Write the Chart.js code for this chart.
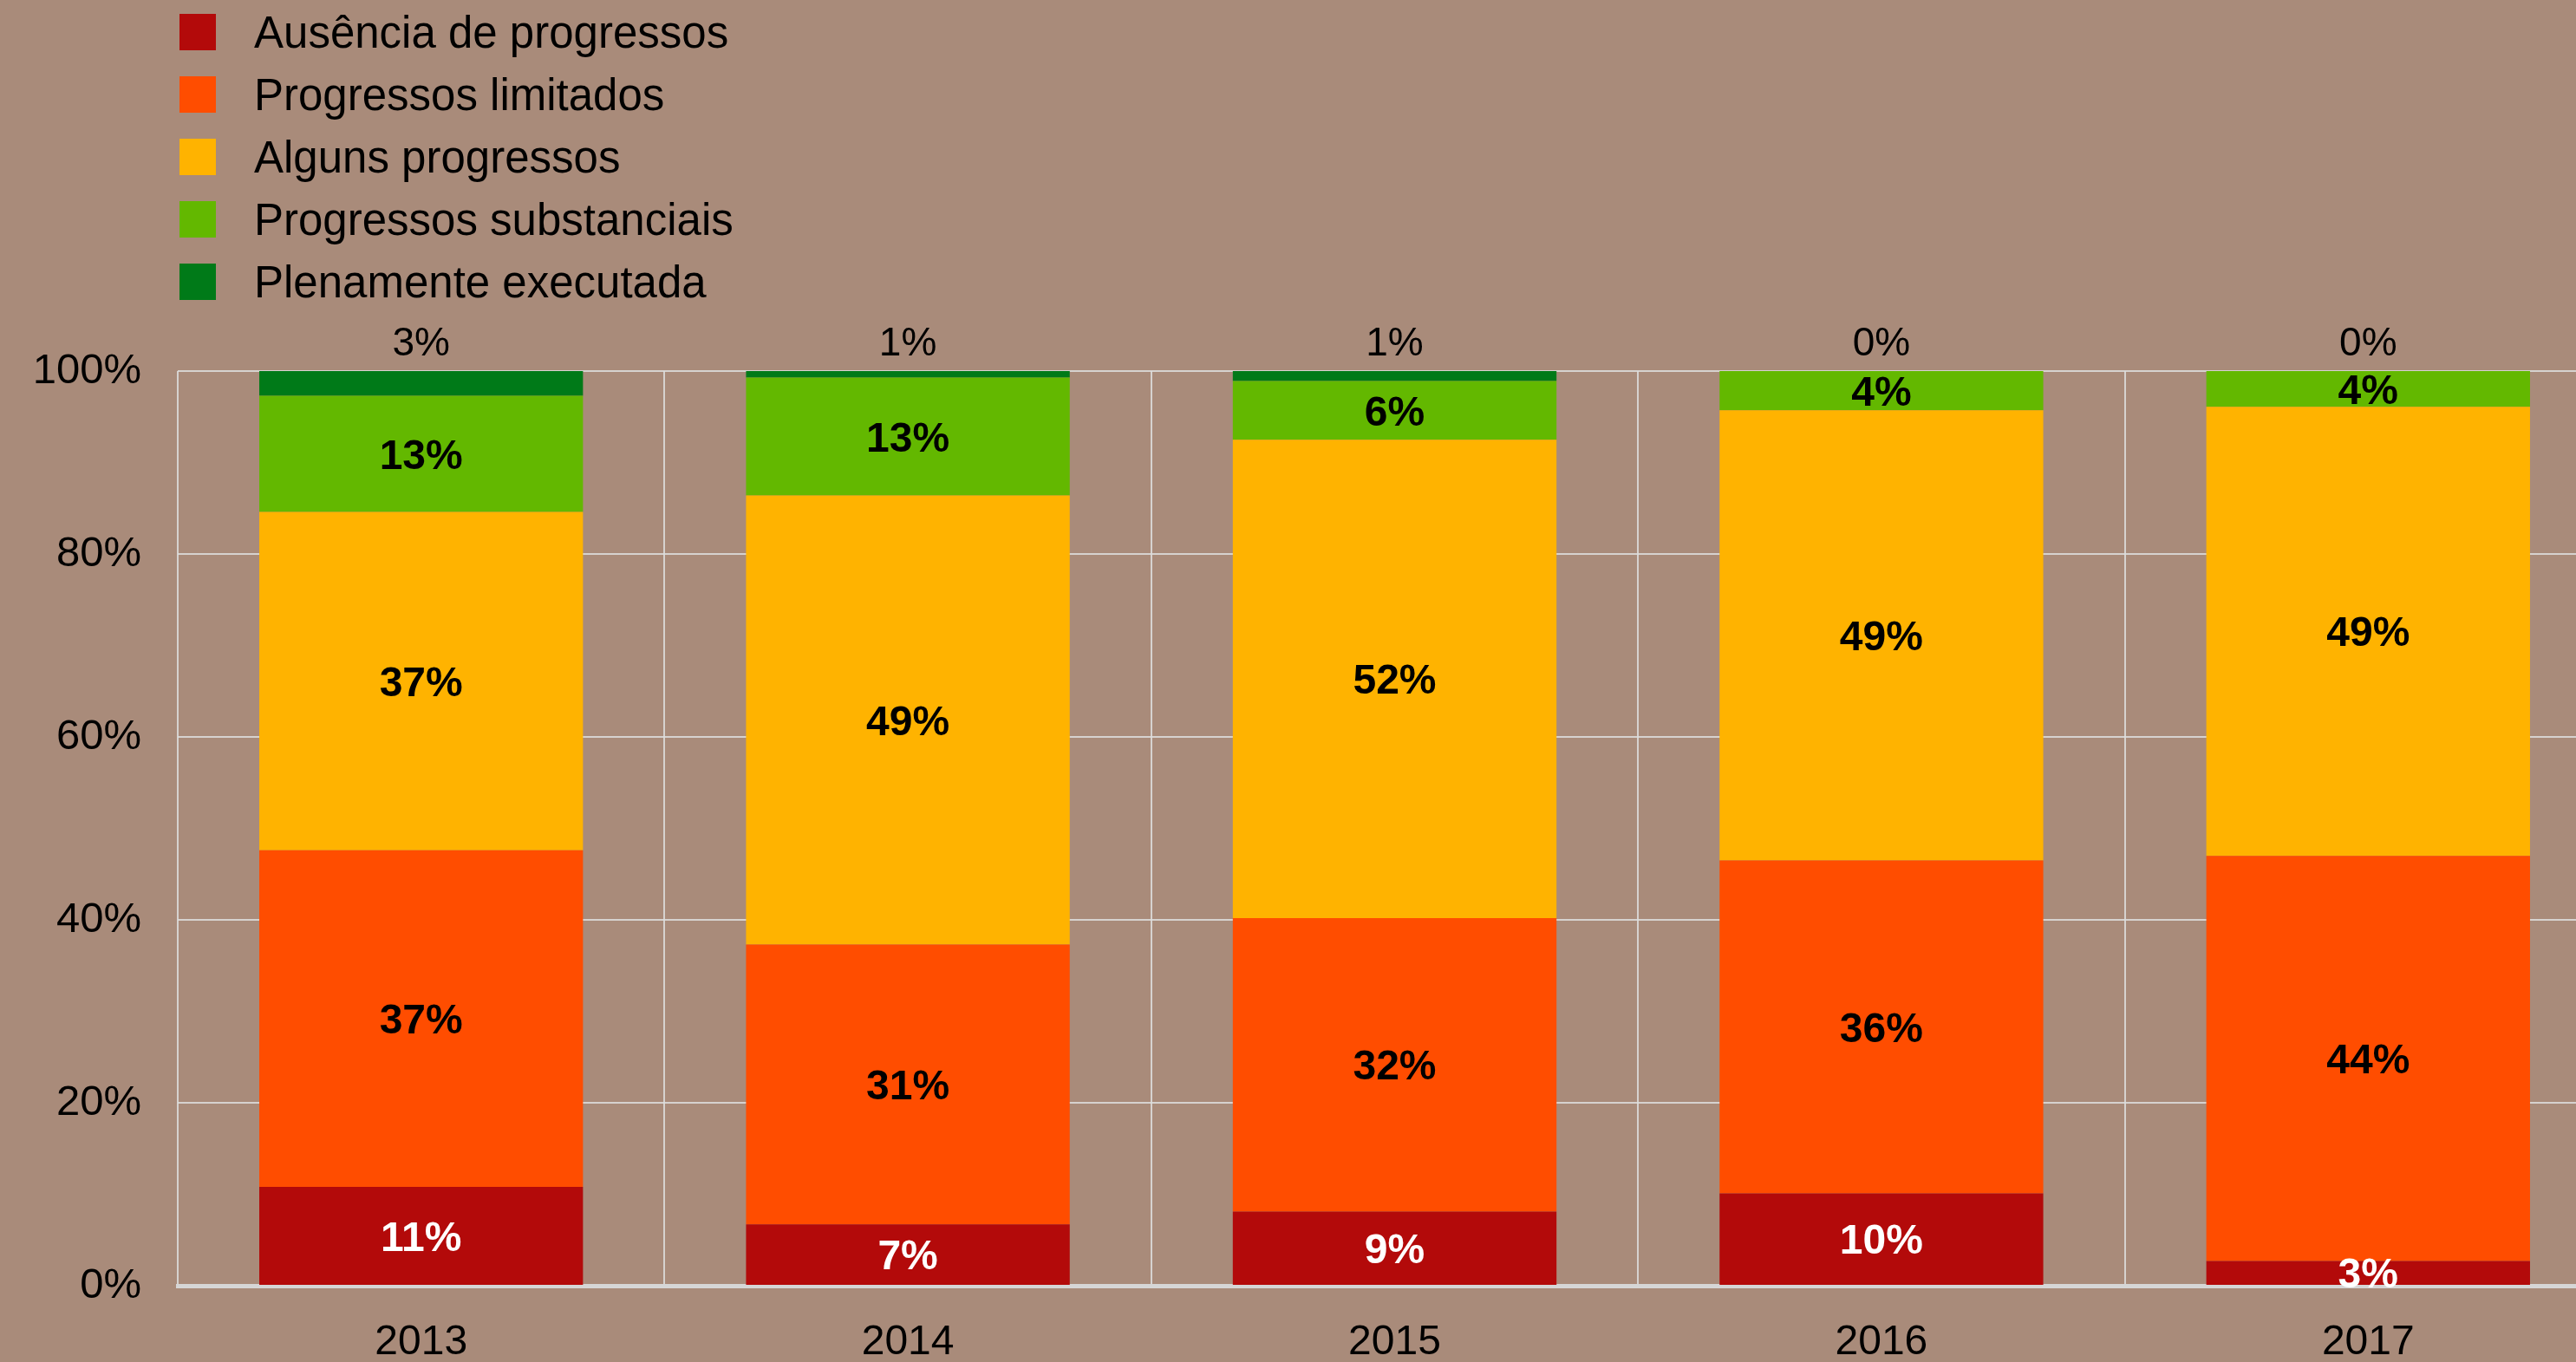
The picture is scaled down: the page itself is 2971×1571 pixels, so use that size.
<!DOCTYPE html>
<html>
<head>
<meta charset="utf-8">
<script src="https://cdn.jsdelivr.net/npm/chart.js@4/dist/chart.umd.min.js"></script>
<style>
  html, body { margin: 0; padding: 0; overflow: hidden; background: #a98b7a; }
  #wrap { position: relative; width: 2971px; height: 1571px; overflow: hidden; }
  #chart { position: absolute; left: 0; top: 0; }
  #legend { position: absolute; left: 207px; top: 1px; font-family: "Liberation Sans", Arial, sans-serif; font-size: 51px; color: #000; }
  #legend .row { display: flex; align-items: center; height: 72px; }
  #legend .box { width: 42px; height: 42px; margin-right: 44px; }
</style>
</head>
<body>
<div id="wrap">
  <canvas id="chart" width="3012" height="1571"></canvas>
  <div id="legend"></div>
</div>
<script>
const years = ['2013', '2014', '2015', '2016', '2017'];

// segment heights (percent)
const ausencia      = [10.8, 6.7, 8.1, 10.1, 2.7];
const limitados     = [36.8, 30.6, 32.1, 36.4, 44.3];
const alguns        = [37.0, 49.1, 52.3, 49.2, 49.1];
const substanciais  = [12.7, 12.9, 6.4, 4.3, 3.9];
const plenamente    = [2.7, 0.7, 1.1, 0, 0];

// printed labels as shown on the chart
const ausenciaLbl     = [11, 7, 9, 10, 3];
const limitadosLbl    = [37, 31, 32, 36, 44];
const algunsLbl       = [37, 49, 52, 49, 49];
const substanciaisLbl = [13, 13, 6, 4, 4];
const plenamenteLbl   = [3, 1, 1, 0, 0];

const yTicks = [0, 20, 40, 60, 80, 100];

const FONT = '"Liberation Sans", Arial, sans-serif';

const series = [
  { label: 'Ausência de progressos', data: ausencia, labels: ausenciaLbl, color: '#b30a0a', text: '#ffffff' },
  { label: 'Progressos limitados', data: limitados, labels: limitadosLbl, color: '#ff4d00', text: '#000000' },
  { label: 'Alguns progressos', data: alguns, labels: algunsLbl, color: '#ffb300', text: '#000000' },
  { label: 'Progressos substanciais', data: substanciais, labels: substanciaisLbl, color: '#63b800', text: '#000000' },
  { label: 'Plenamente executada', data: plenamente, labels: plenamenteLbl, color: '#007a18', text: '#000000' }
];

// labels inside the segments, last series goes above the bar
const segmentLabels = {
  id: 'segmentLabels',
  afterDatasetsDraw(chart) {
    const ctx = chart.ctx;
    ctx.save();
    ctx.textAlign = 'center';
    ctx.textBaseline = 'middle';
    chart.data.datasets.forEach((ds, di) => {
      const meta = chart.getDatasetMeta(di);
      const last = di === chart.data.datasets.length - 1;
      meta.data.forEach((bar, i) => {
        const p = bar.getProps(['x', 'y', 'base'], true);
        const txt = series[di].labels[i] + '%';
        if (last) {
          ctx.font = '46px ' + FONT;
          ctx.fillStyle = '#000';
          ctx.fillText(txt, p.x, p.y - 31);
        } else {
          ctx.font = 'bold 48px ' + FONT;
          ctx.fillStyle = series[di].text;
          ctx.fillText(txt, p.x, (p.y + p.base) / 2 + 4);
        }
      });
    });
    ctx.restore();
  }
};

const gridColor = 'rgba(222, 222, 222, 0.85)';

const chart = new Chart(document.getElementById('chart').getContext('2d'), {
  type: 'bar',
  data: {
    labels: years,
    datasets: series.map(s => ({
      label: s.label,
      data: s.data,
      backgroundColor: s.color,
      borderWidth: 0,
      barPercentage: 0.665,
      categoryPercentage: 1
    }))
  },
  options: {
    responsive: false,
    animation: false,
    layout: { padding: { top: 428, left: 0, right: 0, bottom: 0 } },
    plugins: {
      legend: { display: false },
      tooltip: { enabled: false }
    },
    scales: {
      x: {
        stacked: true,
        afterFit: s => { s.height = 88; },
        grid: { offset: true, color: gridColor, lineWidth: 2, drawTicks: false },
        border: { color: '#d6d6d6', width: 5 },
        ticks: { color: '#000', font: { family: FONT, size: 48 }, padding: 37 }
      },
      y: {
        stacked: true,
        min: 0,
        max: 100,
        afterFit: s => { s.width = 205; },
        afterBuildTicks: s => { s.ticks = yTicks.map(v => ({ value: v })); },
        grid: { color: gridColor, lineWidth: 2, drawTicks: false },
        border: { display: false },
        ticks: {
          color: '#000',
          font: { family: FONT, size: 49 },
          padding: 42,
          callback: v => v + '%'
        }
      }
    }
  },
  plugins: [segmentLabels]
});

// legend: one entry per row, top-left
const legendEl = document.getElementById('legend');
chart.data.datasets.forEach(ds => {
  const row = document.createElement('div');
  row.className = 'row';
  const box = document.createElement('div');
  box.className = 'box';
  box.style.background = ds.backgroundColor;
  const txt = document.createElement('span');
  txt.textContent = ds.label;
  row.appendChild(box);
  row.appendChild(txt);
  legendEl.appendChild(row);
});
</script>
</body>
</html>
